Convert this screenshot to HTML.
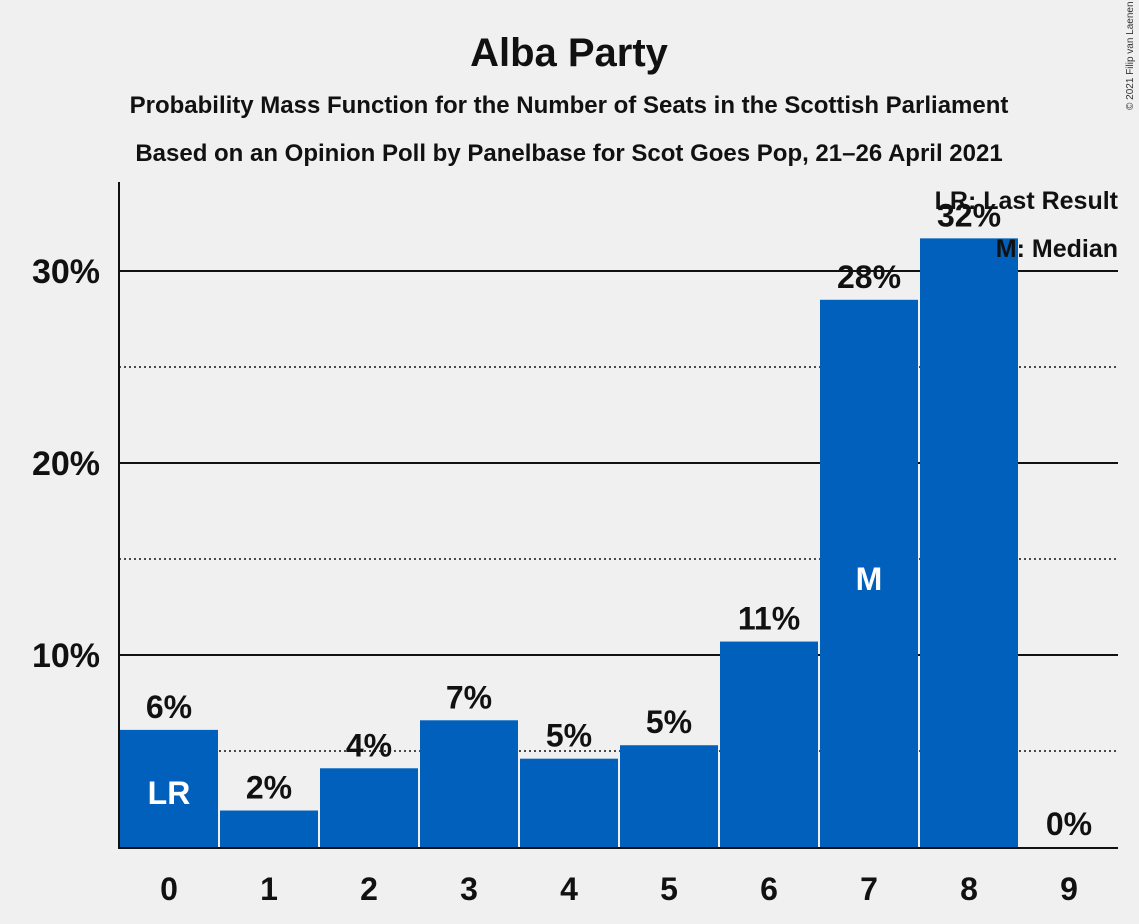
<!DOCTYPE html>
<html><head><meta charset="utf-8"><style>
body{margin:0;background:#f0f0f0;font-family:"Liberation Sans",sans-serif;}
svg{display:block}
</style></head><body>
<svg id="c" width="1139" height="924">
<text x="569" y="66" text-anchor="middle" font-size="40" font-weight="bold" fill="#111">Alba Party</text>
<text x="569" y="113" text-anchor="middle" font-size="24" font-weight="bold" fill="#111">Probability Mass Function for the Number of Seats in the Scottish Parliament</text>
<text x="569" y="161" text-anchor="middle" font-size="24" font-weight="bold" fill="#111">Based on an Opinion Poll by Panelbase for Scot Goes Pop, 21–26 April 2021</text>
<text x="1133" y="110" font-size="10" fill="#333" transform="rotate(-90 1133 110)">© 2021 Filip van Laenen</text>
<g id="grid"></g><g id="bars"></g>
<line x1="119" y1="182" x2="119" y2="848" stroke="#111" stroke-width="2"/>
<line x1="118" y1="848" x2="1118" y2="848" stroke="#111" stroke-width="2"/>
<text x="1118" y="209" text-anchor="end" font-size="25" font-weight="bold" fill="#111">LR: Last Result</text>
<text x="1118" y="257" text-anchor="end" font-size="25" font-weight="bold" fill="#111">M: Median</text>
</svg>
<script>
const categories=["0","1","2","3","4","5","6","7","8","9"];
const values=[6.1,1.9,4.1,6.6,4.6,5.3,10.7,28.5,31.7,0];
const labels=["6%","2%","4%","7%","5%","5%","11%","28%","32%","0%"];
const yTicks=[10,20,30];
const yMinor=[5,15,25];
const yTickLabels=["10%","20%","30%"];
const ns="http://www.w3.org/2000/svg";
const y=v=>847-v*19.2, x=i=>119+i*100;
const g=document.getElementById('grid'), b=document.getElementById('bars');
function mk(tag,at,parent){const e=document.createElementNS(ns,tag);for(const k in at)e.setAttribute(k,at[k]);parent.appendChild(e);return e;}
yMinor.forEach(v=>{const l=mk('line',{x1:119,x2:1118,y1:y(v),y2:y(v),stroke:'#111','stroke-width':1.5,'stroke-dasharray':'2,3'},g);

});
yTicks.forEach((v,i)=>{const l=mk('line',{x1:119,x2:1118,y1:y(v),y2:y(v),stroke:'#111','stroke-width':2},g);


const t=mk('text',{x:100,y:y(v)+12,'text-anchor':'end','font-size':34,'font-weight':'bold',fill:'#111'},g);t.textContent=yTickLabels[i];

});
categories.forEach((c,i)=>{
 if(values[i]>0){const r=mk('rect',{x:x(i)+1,y:y(values[i]),width:98,height:847-y(values[i]),fill:'#0060bb'},b);
 
 }
 const t=mk('text',{x:x(i)+50,y:y(values[i])-12,'text-anchor':'middle','font-size':32,'font-weight':'bold',fill:'#111'},b);t.textContent=labels[i];
 
 
 const xt=mk('text',{x:x(i)+50,y:900,'text-anchor':'middle','font-size':32,'font-weight':'bold',fill:'#111'},b);xt.textContent=c;
 
 
});
const lr=mk('text',{x:x(0)+50,y:804,'text-anchor':'middle','font-size':32,'font-weight':'bold',fill:'#fff'},b);lr.textContent='LR';


const m=mk('text',{x:x(7)+50,y:590,'text-anchor':'middle','font-size':32,'font-weight':'bold',fill:'#fff'},b);m.textContent='M';


</script>
</body></html>
